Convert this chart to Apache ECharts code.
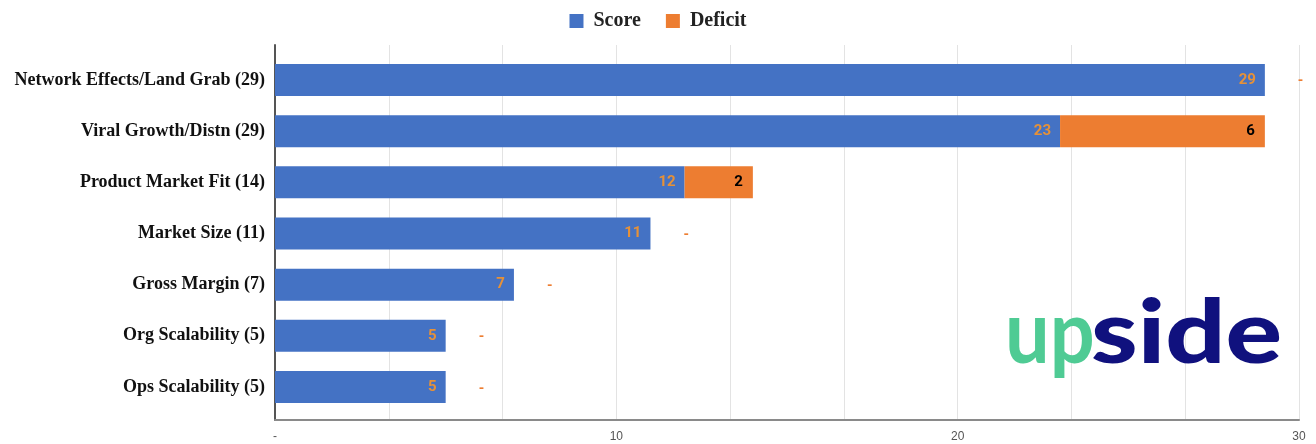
<!DOCTYPE html>
<html>
<head>
<meta charset="utf-8">
<script src="https://cdn.jsdelivr.net/npm/echarts@6/dist/echarts.min.js"></script>
<style>html,body{margin:0;padding:0;background:#fff}#c{width:1316px;height:444px}</style>
</head>
<body>
<div id="c"></div>
<script>
const categories = ['Network Effects/Land Grab (29)','Viral Growth/Distn (29)','Product Market Fit (14)','Market Size (11)','Gross Margin (7)','Org Scalability (5)','Ops Scalability (5)'];
const scoreValues = [29, 23, 12, 11, 7, 5, 5];
const deficitValues = [0, 6, 2, 0, 0, 0, 0];
const xTickLabels = {0: '-', 10: '10', 20: '20', 30: '30'};

const chart = echarts.init(document.getElementById('c'));
const labelFont = 'Roboto';
const deficitData = deficitValues.map(v => v === 0 ? {
  value: v,
  label: {show: true, position: 'right', distance: 33, offset: [0, 2], formatter: '-', color: '#ED7D31', fontSize: 14, fontWeight: 'bold', fontFamily: labelFont}
} : {
  value: v,
  label: {show: true, position: 'insideRight', distance: 10, color: '#000', fontSize: 15, fontWeight: 'bold', fontFamily: labelFont}
});

chart.setOption({
  animation: false,
  legend: {
    top: 6, left: 'center', itemWidth: 14, itemHeight: 14, itemGap: 25, icon: 'rect',
    textStyle: {fontFamily: 'Liberation Serif', fontWeight: 'bold', fontSize: 20, color: '#222', padding: [0, 0, 0, 5]},
    data: ['Score', 'Deficit']
  },
  grid: [
    {left: 275, right: 17, top: 45, bottom: 24},
    {left: 275, right: 17, top: 54.4, bottom: 31.4}
  ],
  xAxis: [
    {
      gridIndex: 0, type: 'value', min: 0, max: 30, interval: 10/3,
      axisLine: {show: true, lineStyle: {color: '#8a8a8a', width: 2}},
      axisTick: {show: false},
      splitLine: {show: true, lineStyle: {color: '#e3e3e3', width: 1}},
      axisLabel: {
        margin: 11, color: '#555', fontSize: 12, fontFamily: 'Liberation Sans',
        formatter: v => { const r = Math.round(v); return (Math.abs(v - r) < 1e-6 && xTickLabels[r] !== undefined) ? xTickLabels[r] : ''; }
      }
    },
    {gridIndex: 1, type: 'value', min: 0, max: 30, show: false}
  ],
  yAxis: [
    {gridIndex: 0, type: 'value', min: 0, max: 1, axisLine: {show: true, lineStyle: {color: '#555', width: 2}}, axisTick: {show: false}, axisLabel: {show: false}, splitLine: {show: false}},
    {
      gridIndex: 1, type: 'category', inverse: true, data: categories,
      axisLine: {show: false}, axisTick: {show: false},
      axisLabel: {margin: 10, color: '#111', fontFamily: 'Liberation Serif', fontWeight: 'bold', fontSize: 18}
    }
  ],
  series: [
    {
      name: 'Score', type: 'bar', stack: 'a', xAxisIndex: 1, yAxisIndex: 1, barWidth: 32,
      itemStyle: {color: '#4472C4'},
      label: {show: true, position: 'insideRight', distance: 9, color: '#E69138', fontSize: 15, fontWeight: 'bold', fontFamily: labelFont},
      data: scoreValues
    },
    {
      name: 'Deficit', type: 'bar', stack: 'a', xAxisIndex: 1, yAxisIndex: 1, barWidth: 32,
      itemStyle: {color: '#ED7D31'},
      data: deficitData
    }
  ],
  graphic: [
    {type: 'text', z: 100, x: 1005, y: 335, scaleX: 0.9, style: {x: 0, y: 0, text: 'up', font: 'bold 88px Lato', fill: '#4FCB94', textAlign: 'left', align: 'left', textVerticalAlign: 'middle', verticalAlign: 'middle'}},
    {type: 'text', z: 100, x: 1091, y: 335, scaleX: 1.2, style: {x: 0, y: 0, text: 'side', font: '900 88px Lato', fill: '#10117E', textAlign: 'left', align: 'left', textVerticalAlign: 'middle', verticalAlign: 'middle'}}
  ]
});
</script>
</body>
</html>
